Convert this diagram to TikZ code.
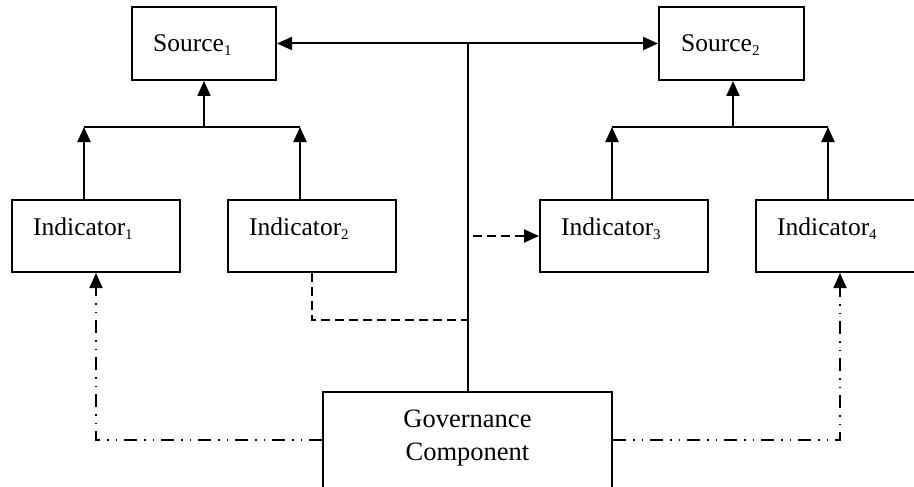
\documentclass[tikz,border=0pt]{standalone}
\usepackage{fontspec}
\setmainfont{Liberation Serif}
\usetikzlibrary{arrows.meta}
\newcommand{\mysub}[1]{\raisebox{-4pt}{\fontsize{15}{15}\selectfont #1}}
\begin{document}
\begin{tikzpicture}[x=1pt,y=-1pt,
  box/.style={draw,line width=2pt,inner sep=0pt},
  lbl/.style={anchor=base west,inner sep=0pt,font=\fontsize{25.5}{30}\selectfont},
  glbl/.style={anchor=base,inner sep=0pt,font=\fontsize{26.5}{32}\selectfont},
  ln/.style={line width=2pt},
  dln/.style={line width=1.8pt,dash pattern=on 9pt off 5pt},
  ddln/.style={line width=1.8pt,dash pattern=on 13pt off 7pt on 1.5pt off 7pt on 1.5pt off 7pt},
  tip/.style={-{Triangle[length=15pt,width=13pt]}},
  tips/.style={{Triangle[length=15pt,width=13pt]}-{Triangle[length=15pt,width=13pt]}}]
\useasboundingbox (0,0) rectangle (914,487);
\clip (0,0) rectangle (914,487);

% boxes
\node[box,minimum width=144pt,minimum height=73pt] (s1) at (204,43.5) {};
\node[box,minimum width=145pt,minimum height=73pt] (s2) at (731.5,43.5) {};
\node[box,minimum width=168pt,minimum height=72pt] (i1) at (96,236) {};
\node[box,minimum width=168pt,minimum height=72pt] (i2) at (312,236) {};
\node[box,minimum width=168pt,minimum height=72pt] (i3) at (624,236) {};
\node[box,minimum width=168pt,minimum height=72pt] (i4) at (840,236) {};
\node[box,minimum width=289pt,minimum height=108pt] (gov) at (467.5,446) {};

% texts
\node[lbl] (ts1) at (153,52) {Source\mysub{1}};
\node[lbl] (ts2) at (681,52) {Source\mysub{2}};
\node[lbl] (ti1) at (33,235) {Indicator\mysub{1}};
\node[lbl] (ti2) at (249,235) {Indicator\mysub{2}};
\node[lbl] (ti3) at (561,235) {Indicator\mysub{3}};
\node[lbl] (ti4) at (777,235) {Indicator\mysub{4}};
\node[glbl] (tg1) at (467.5,427) {Governance};
\node[glbl] (tg2) at (467.5,460) {Component};

% top connector
\draw[ln,tips] (s1.east) -- (s2.west);
\draw[ln] (gov.north) -- (gov.north |- s1.east);

% left tree
\coordinate (j1) at (204,127);
\draw[ln,tip] (j1) -- (s1.south);
\draw[ln] ([xshift=-12pt]i1.north |- j1) -- ([xshift=-12pt]i2.north |- j1);
\draw[ln,tip] ([xshift=-12pt]i1.north) -- ([xshift=-12pt]i1.north |- j1);
\draw[ln,tip] ([xshift=-12pt]i2.north) -- ([xshift=-12pt]i2.north |- j1);

% right tree
\coordinate (j2) at (733,127);
\draw[ln,tip] (j2) -- (j2 |- s2.south);
\draw[ln] ([xshift=-12pt]i3.north |- j2) -- ([xshift=-12pt]i4.north |- j2);
\draw[ln,tip] ([xshift=-12pt]i3.north) -- ([xshift=-12pt]i3.north |- j2);
\draw[ln,tip] ([xshift=-12pt]i4.north) -- ([xshift=-12pt]i4.north |- j2);

% dashed
\coordinate (dj) at (467.5,320);
\draw[dln] (i2.south) |- (dj);
\draw[dln,tip] ([xshift=5pt]gov.north |- i3.west) -- (i3.west);

% dash-dot-dot
\coordinate (gl) at (gov.west |- 0,440);
\coordinate (gr) at (gov.east |- 0,440);
\draw[ddln,tip] (gl) -| (i1.south);
\draw[ddln,tip] (gr) -| (i4.south);
\end{tikzpicture}
\end{document}
